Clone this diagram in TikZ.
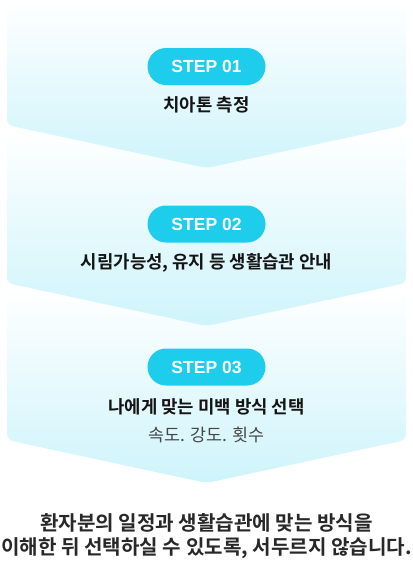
\documentclass[tikz,border=0pt]{standalone}
\usepackage{fontspec}
\newfontfamily\kr[BoldFont={Noto Sans CJK KR Bold}]{Noto Sans CJK KR}
\newfontfamily\pillfont{Liberation Sans}
\definecolor{pillcyan}{RGB}{30,205,236}
\definecolor{boxcyan}{RGB}{206,244,251}
\definecolor{maintext}{RGB}{20,20,20}
\definecolor{subtext}{RGB}{70,70,70}
\definecolor{bottomtext}{RGB}{40,40,40}
\tikzset{
  boxshade/.style={top color=white, bottom color=boxcyan, rounded corners=6pt},
  pill/.style={fill=pillcyan, rounded corners=18.5pt, minimum width=118pt, minimum height=37pt,
    text=white, font=\pillfont\bfseries\fontsize{17.5}{20}\selectfont, inner sep=0pt},
  steptext/.style={text=maintext, font=\kr\bfseries\fontsize{17.8}{20}\selectfont, inner sep=0pt},
  subtextstyle/.style={text=subtext, font=\kr\fontsize{17.4}{20}\selectfont, inner sep=0pt},
  bottomstyle/.style={text=bottomtext, font=\kr\bfseries\fontsize{20.1}{22}\selectfont, inner sep=0pt}
}
\begin{document}
\begin{tikzpicture}[x=1pt,y=1pt]
\useasboundingbox (0,0) rectangle (413,-574);
% boxes (drawn bottom-up so each point overlaps the next box)
\shade[boxshade] (7,-288) -- (406,-288) -- (406,-440) -- (206.5,-483) -- (7,-440) -- cycle;
\shade[boxshade] (7,-130) -- (406,-130) -- (406,-283) -- (206.5,-326) -- (7,-283) -- cycle;
\shade[boxshade] (7,0) -- (406,0) -- (406,-125) -- (206.5,-168) -- (7,-125) -- cycle;
% pills
\node[pill] (p1) at (206.5,-66.5) {STEP 01};
\node[pill] (p2) at (206.5,-224) {STEP 02};
\node[pill] (p3) at (206.5,-367) {STEP 03};
% step texts
\node[steptext] (t1) at (206.5,-105) {치아톤 측정};
\node[steptext] (t2) at (206.5,-263) {시림가능성, 유지 등 생활습관 안내};
\node[steptext] (t3) at (206.5,-407) {나에게 맞는 미백 방식 선택};
\node[subtextstyle] (s3) at (206.5,-435) {속도. 강도. 횟수};
% bottom text
\node[bottomstyle] (b1) at (206.5,-523) {환자분의 일정과 생활습관에 맞는 방식을};
\node[bottomstyle] (b2) at (206.5,-548) {이해한 뒤 선택하실 수 있도록, 서두르지 않습니다.};
\end{tikzpicture}
\end{document}
